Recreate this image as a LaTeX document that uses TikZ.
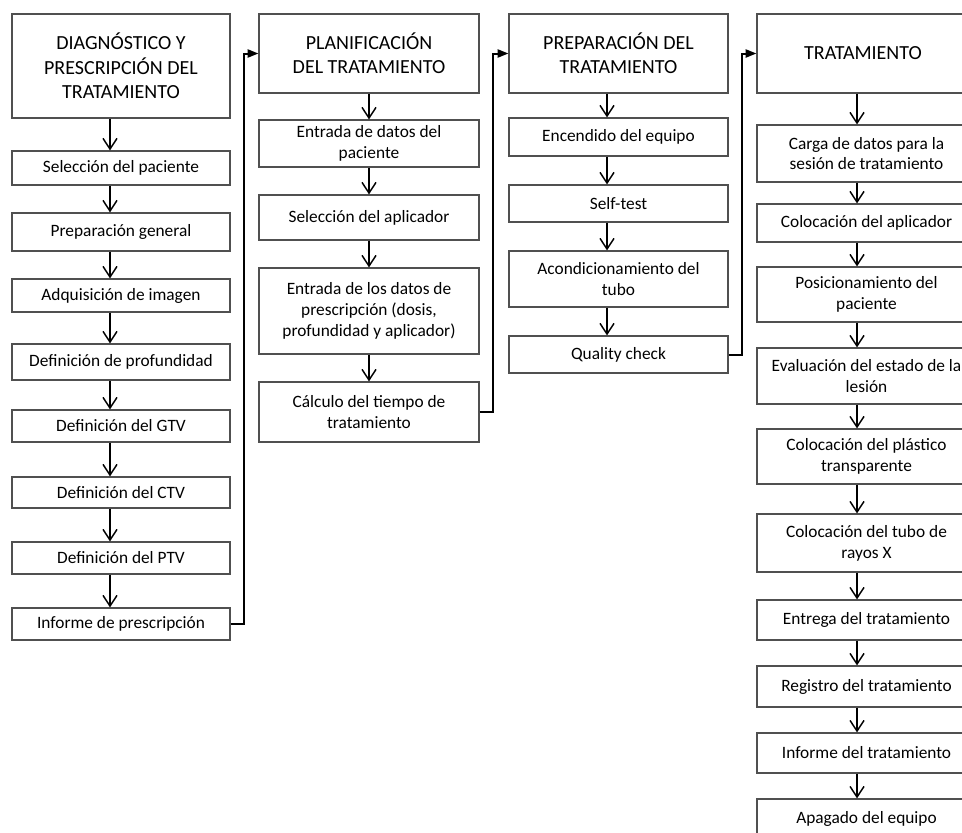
\documentclass[tikz,border=0pt]{standalone}
\usepackage{fontspec}
\setmainfont{Carlito}
\usetikzlibrary{arrows.meta}
\definecolor{boxc}{RGB}{80,80,80}
\tikzset{
  bx/.style n args={4}{draw=boxc, line width=0.9pt, inner sep=0pt, align=center,
    font=\fontsize{13}{15.6}\selectfont,
    minimum width={(#3-#1)*0.75pt}, minimum height={(#4-#2)*0.75pt},
    at={({(#1+#3)/2},{(#2+#4)/2})}},
  hd/.style={font=\fontsize{15}{18.3}\selectfont},
  flow/.style={-{Straight Barb[length=8pt,width=10.5pt]}, line width=1.1pt},
  conn/.style={-{Triangle[length=8pt,width=6pt]}, line width=1.5pt}
}
\begin{document}
\begin{tikzpicture}[x=0.75pt,y=-0.75pt]
\clip (0,0) rectangle (962,832);
\fill[white] (0,0) rectangle (962,832);
% guide coordinates
\coordinate (ax1) at (110,0);
\coordinate (ax2) at (369,0);
\coordinate (ax3) at (607,0);
\coordinate (ax4) at (857,0);
\coordinate (j1) at (244,0);
\coordinate (j2) at (493,0);
\coordinate (j3) at (742,0);
% column 1
\node[bx={12}{14}{230}{118}, hd] (h1) {DIAGNÓSTICO Y\\PRESCRIPCIÓN DEL\\TRATAMIENTO};
\node[bx={12}{151}{230}{185}] (p1) {Selección del paciente};
\node[bx={12}{213}{230}{251}] (p2) {Preparación general};
\node[bx={12}{279}{230}{312}] (p3) {Adquisición de imagen};
\node[bx={12}{344}{230}{380}] (p4) {Definición de profundidad};
\node[bx={12}{410}{230}{442}] (p5) {Definición del GTV};
\node[bx={12}{477}{230}{508}] (p6) {Definición del CTV};
\node[bx={12}{542}{230}{574}] (p7) {Definición del PTV};
\node[bx={12}{608}{230}{640}] (p8) {Informe de prescripción};
% column 2
\node[bx={259}{14}{479}{93}, hd] (h2) {PLANIFICACIÓN\\DEL TRATAMIENTO};
\node[bx={259}{120}{479}{167}] (q1) {Entrada de datos del\\paciente};
\node[bx={259}{195}{479}{240}] (q2) {Selección del aplicador};
\node[bx={259}{268}{479}{354}] (q3) {Entrada de los datos de\\prescripción (dosis,\\profundidad y aplicador)};
\node[bx={259}{382}{479}{442}] (q4) {Cálculo del tiempo de\\tratamiento};
% column 3
\node[bx={509}{14}{728}{93}, hd] (h3) {PREPARACIÓN DEL\\TRATAMIENTO};
\node[bx={509}{118}{728}{156}] (r1) {Encendido del equipo};
\node[bx={509}{185}{728}{222}] (r2) {Self-test};
\node[bx={509}{251}{728}{307}] (r3) {Acondicionamiento del\\tubo};
\node[bx={509}{336}{728}{373}] (r4) {Quality check};
% column 4
\node[bx={757}{14}{969}{93}, hd] (h4) {TRATAMIENTO};
\node[bx={757}{125}{976}{182}] (t1) {Carga de datos para la\\sesión de tratamiento};
\node[bx={757}{204}{976}{242}] (t2) {Colocación del aplicador};
\node[bx={757}{267}{976}{322}] (t3) {Posicionamiento del\\paciente};
\node[bx={757}{348}{976}{404}] (t4) {Evaluación del estado de la\\lesión};
\node[bx={757}{429}{976}{484}] (t5) {Colocación del plástico\\transparente};
\node[bx={757}{514}{976}{572}] (t6) {Colocación del tubo de\\rayos X};
\node[bx={757}{600}{976}{640}] (t7) {Entrega del tratamiento};
\node[bx={757}{666}{976}{707}] (t8) {Registro del tratamiento};
\node[bx={757}{733}{976}{773}] (t9) {Informe del tratamiento};
\node[bx={757}{799}{976}{839}] (t10) {Apagado del equipo};
% flow arrows column 1
\foreach \a/\b in {h1/p1,p1/p2,p2/p3,p3/p4,p4/p5,p5/p6,p6/p7,p7/p8}
  \draw[flow] (\a.south -| ax1) -- (\b.north -| ax1);
% column 2
\foreach \a/\b in {h2/q1,q1/q2,q2/q3,q3/q4}
  \draw[flow] (\a.south -| ax2) -- (\b.north -| ax2);
% column 3
\foreach \a/\b in {h3/r1,r1/r2,r2/r3,r3/r4}
  \draw[flow] (\a.south -| ax3) -- (\b.north -| ax3);
% column 4
\foreach \a/\b in {h4/t1,t1/t2,t2/t3,t3/t4,t4/t5,t5/t6,t6/t7,t7/t8,t8/t9,t9/t10}
  \draw[flow] (\a.south -| ax4) -- (\b.north -| ax4);
% connectors between columns
\draw[conn] (p8.east) -- (p8.east -| j1) |- (h2.west);
\draw[conn] (q4.east) -- (q4.east -| j2) |- (h3.west);
\draw[conn] (r4.east) -- (r4.east -| j3) |- (h4.west);
\end{tikzpicture}
\end{document}
